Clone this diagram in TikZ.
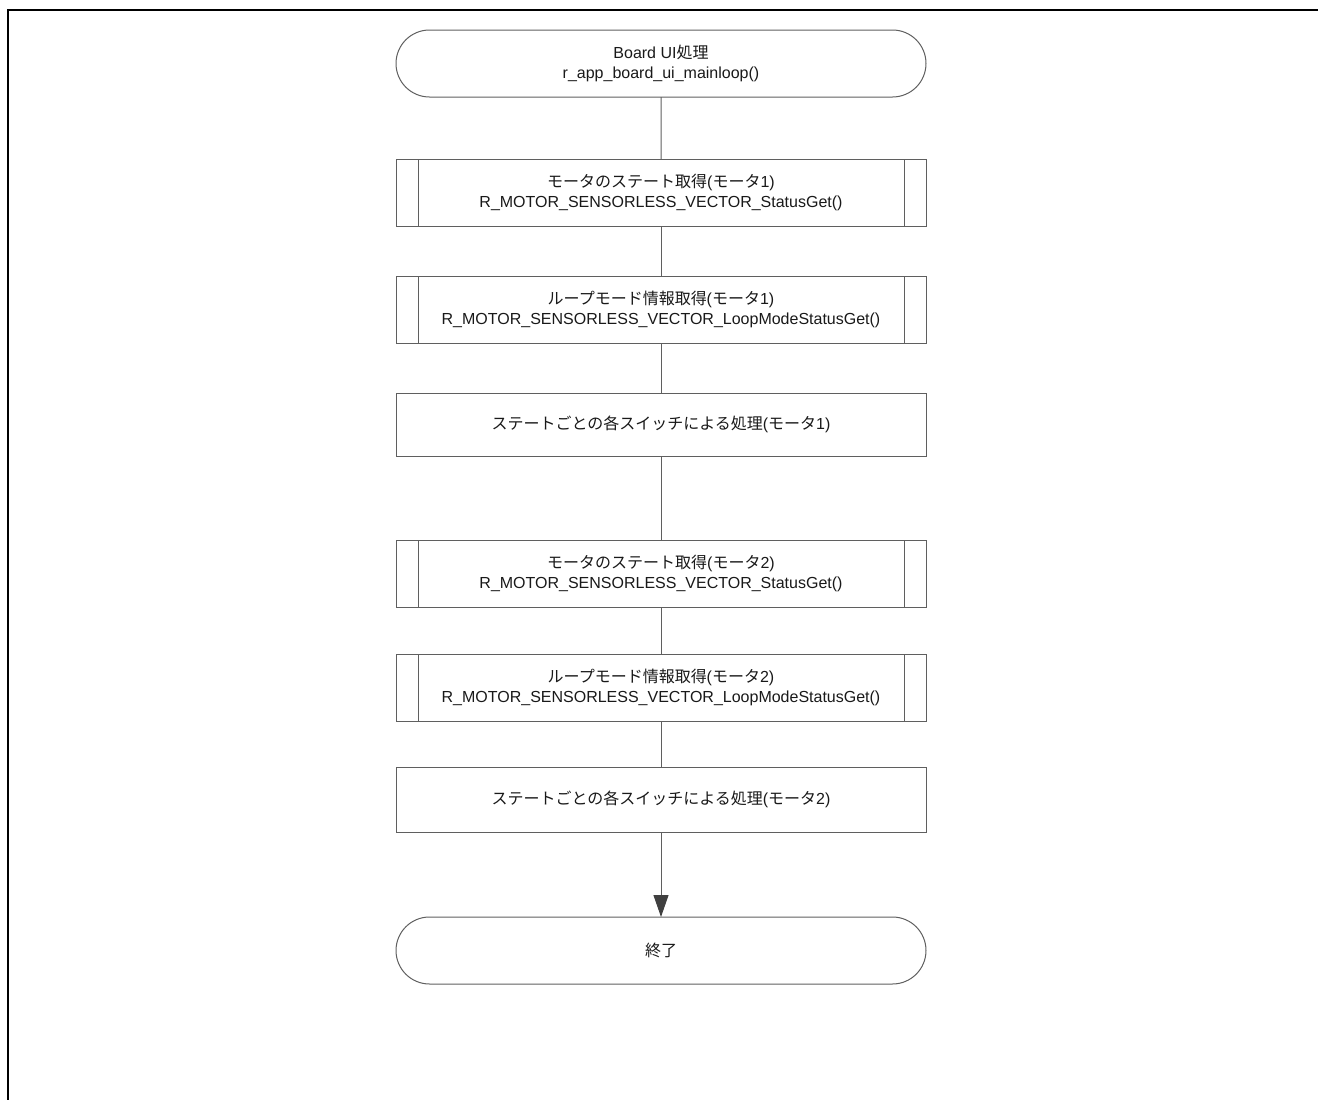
\documentclass[tikz,border=0pt]{standalone}
\usepackage{fontspec}
\setmainfont{Liberation Sans}
\newfontfamily\jp{Noto Sans CJK JP}
\usetikzlibrary{shapes,arrows.meta,positioning}
\definecolor{linegray}{RGB}{95,95,95}
\definecolor{tipgray}{RGB}{64,64,64}
\def\ja#1{{\jp #1}}

\begin{document}
\begin{tikzpicture}[x=1pt,y=1pt,% styles for every box of the flow
        every node/.style={
            align=center,       % so that "\\" breaks the line
            font=\fontsize{16}{19.5}\selectfont,
            text=black!90,
            draw=linegray,
            line width=1pt,
            inner sep=0pt,
            outer sep=0pt,      % gaps measured from the drawn border
            minimum width=530pt
        },
        terminal/.style={rounded rectangle,minimum height=67pt},
        process/.style={rectangle,minimum height=63pt},
        subproc/.style={rectangle,minimum height=67pt,
            path picture={\draw[linegray,line width=1pt]
                ([xshift=22pt]path picture bounding box.north west) -- ([xshift=22pt]path picture bounding box.south west)
                ([xshift=-22pt]path picture bounding box.north east) -- ([xshift=-22pt]path picture bounding box.south east);}},
        every edge/.style={draw=linegray,line width=1pt}
    ]
    \useasboundingbox (0,0) rectangle (1318,-1100);
    % frame
    \draw[line width=2pt] (8,-1100) -- (8,-10) -- (1318,-10);

    \node[terminal] (R1) at (661,-63.5) {Board UI\ja{処理}\\r\_app\_board\_ui\_mainloop()};
    \node[subproc] (R2) [below=62pt of R1] {\ja{モータのステート取得}(\ja{モータ}1)\\R\_MOTOR\_SENSORLESS\_VECTOR\_StatusGet()};
    \node[subproc] (R3) [below=50pt of R2] {\ja{ループモード情報取得}(\ja{モータ}1)\\R\_MOTOR\_SENSORLESS\_VECTOR\_LoopModeStatusGet()};
    \node[process] (R4) [below=50pt of R3] {\ja{ステートごとの各スイッチによる処理}(\ja{モータ}1)};
    \node[subproc] (R5) [below=84pt of R4] {\ja{モータのステート取得}(\ja{モータ}2)\\R\_MOTOR\_SENSORLESS\_VECTOR\_StatusGet()};
    \node[subproc] (R6) [below=47pt of R5] {\ja{ループモード情報取得}(\ja{モータ}2)\\R\_MOTOR\_SENSORLESS\_VECTOR\_LoopModeStatusGet()};
    \node[process,minimum height=65pt] (R7) [below=46pt of R6] {\ja{ステートごとの各スイッチによる処理}(\ja{モータ}2)};
    \node[terminal] (R8) [below=85pt of R7] {\ja{終了}};

    \path
    (R1) edge (R2)
    (R2) edge (R3)
    (R3) edge (R4)
    (R4) edge (R5)
    (R5) edge (R6)
    (R6) edge (R7)
    (R7) edge [-{Triangle[width=15pt,length=22pt,color=tipgray]}] (R8)
    ;
\end{tikzpicture}
\end{document}
